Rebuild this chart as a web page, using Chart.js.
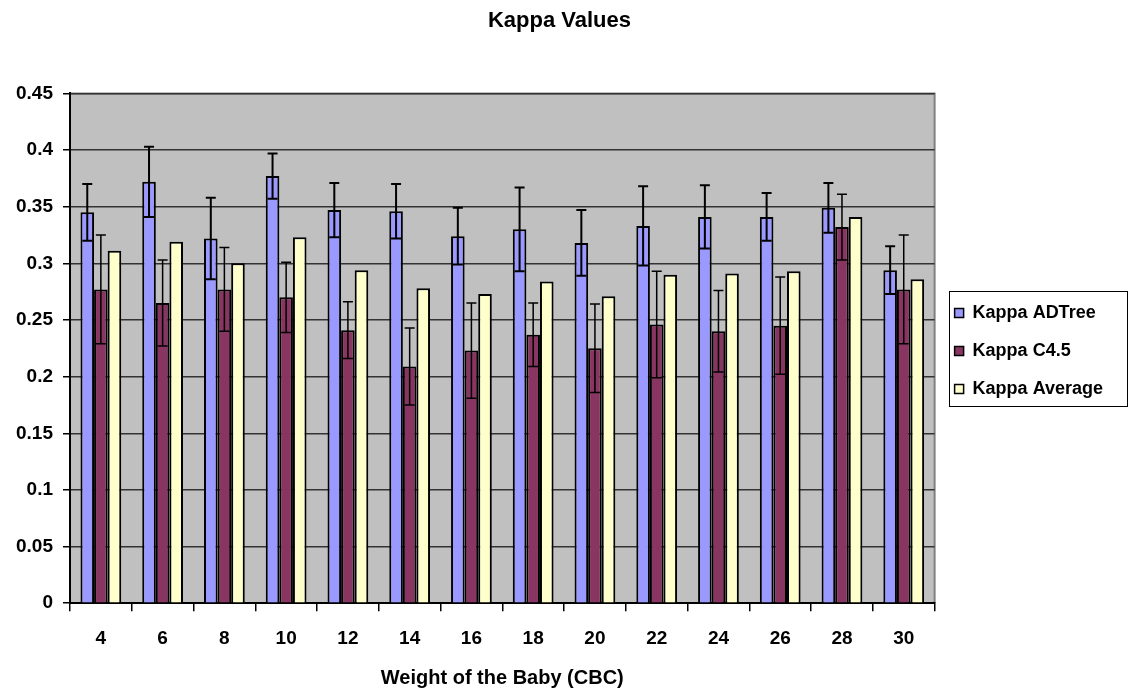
<!DOCTYPE html>
<html>
<head>
<meta charset="utf-8">
<script src="https://cdn.jsdelivr.net/npm/chart.js@4.4.1/dist/chart.umd.min.js"></script>
<style>
  html, body { margin: 0; padding: 0; background: #fff; }
  #wrap { width: 1136px; height: 695px; }
</style>
</head>
<body>
<div id="wrap"><canvas id="kappaChart" width="1136" height="695"></canvas></div>
<script>
const weights = ["4", "6", "8", "10", "12", "14", "16", "18", "20", "22", "24", "26", "28", "30"];

const kappaADTree = [0.345, 0.372, 0.322, 0.377, 0.347, 0.346, 0.324, 0.330, 0.318, 0.333, 0.341, 0.341, 0.349, 0.294];
const errADTree   = [0.025, 0.031, 0.036, 0.020, 0.024, 0.024, 0.025, 0.037, 0.029, 0.035, 0.028, 0.021, 0.022, 0.021];

const kappaC45 = [0.277, 0.265, 0.277, 0.270, 0.241, 0.209, 0.223, 0.237, 0.225, 0.246, 0.240, 0.245, 0.332, 0.277];
const errC45   = [0.048, 0.038, 0.037, 0.031, 0.025, 0.034, 0.042, 0.028, 0.039, 0.047, 0.036, 0.043, 0.029, 0.048];

const kappaAverage = [0.311, 0.319, 0.300, 0.323, 0.294, 0.278, 0.273, 0.284, 0.271, 0.290, 0.291, 0.293, 0.341, 0.286];

const yTicks = [0, 0.05, 0.1, 0.15, 0.2, 0.25, 0.3, 0.35, 0.4, 0.45];

const FONT = "'Liberation Sans', Arial, sans-serif";

// grey plot background
const plotBackground = {
    id: 'plotBackground',
    beforeDraw(chart) {
        const { ctx, chartArea: a } = chart;
        ctx.save();
        ctx.fillStyle = '#c0c0c0';
        ctx.fillRect(a.left, a.top, a.right - a.left, a.bottom - a.top);
        ctx.strokeStyle = '#808080';
        ctx.lineWidth = 2;
        ctx.beginPath();
        ctx.moveTo(a.left, a.top);
        ctx.lineTo(a.right, a.top);
        ctx.lineTo(a.right, a.bottom);
        ctx.stroke();
        ctx.restore();
    }
};

// error bars drawn from the bar elements and the y scale
const errorBars = {
    id: 'errorBars',
    afterDatasetsDraw(chart) {
        const { ctx } = chart;
        const yScale = chart.scales.y;
        ctx.save();
        ctx.strokeStyle = '#000';
        chart.data.datasets.forEach((ds, di) => {
            if (!ds.errors) return;
            const meta = chart.getDatasetMeta(di);
            ctx.lineWidth = ds.errorWidth || 2;
            meta.data.forEach((bar, i) => {
                const v = ds.data[i];
                const e = ds.errors[i];
                const yTop = yScale.getPixelForValue(v + e);
                const yBot = yScale.getPixelForValue(v - e);
                const x = bar.x;
                ctx.beginPath();
                ctx.moveTo(x, yTop);
                ctx.lineTo(x, yBot);
                ctx.moveTo(x - 5, yTop);
                ctx.lineTo(x + 5, yTop);
                ctx.moveTo(x - 5, yBot);
                ctx.lineTo(x + 5, yBot);
                ctx.stroke();
            });
        });
        ctx.restore();
    }
};

// frame around the legend
const legendFrame = {
    id: 'legendFrame',
    afterDraw(chart) {
        const lg = chart.legend;
        if (!lg || !lg.legendHitBoxes.length) return;
        const boxes = lg.legendHitBoxes;
        const left = boxes[0].left - 6;
        const top = boxes[0].top - 13;
        const last = boxes[boxes.length - 1];
        const bottom = last.top + last.height + 8;
        const { ctx } = chart;
        ctx.save();
        ctx.strokeStyle = '#000';
        ctx.lineWidth = 1;
        ctx.strokeRect(Math.round(left) + 0.5, Math.round(top) + 0.5, 178, Math.round(bottom - top));
        ctx.restore();
    }
};

new Chart(document.getElementById('kappaChart'), {
    type: 'bar',
    data: {
        labels: weights,
        datasets: [{
            label: 'Kappa ADTree',
            data: kappaADTree,
            errors: errADTree,
            errorWidth: 2,
            backgroundColor: '#9999ff',
            borderColor: '#000',
            borderWidth: 2
        }, {
            label: 'Kappa C4.5',
            data: kappaC45,
            errors: errC45,
            errorWidth: 1.5,
            backgroundColor: '#883562',
            borderColor: '#000',
            borderWidth: 2
        }, {
            label: 'Kappa Average',
            data: kappaAverage,
            backgroundColor: '#ffffcc',
            borderColor: '#000',
            borderWidth: 2
        }]
    },
    options: {
        responsive: false,
        animation: false,
        devicePixelRatio: 1,
        layout: {
            padding: { left: 6, right: 23, top: 0, bottom: 5 }
        },
        datasets: {
            bar: {
                categoryPercentage: 0.66,
                barPercentage: 1.0
            }
        },
        scales: {
            x: {
                grid: {
                    display: true,
                    drawOnChartArea: false,
                    drawTicks: true,
                    tickLength: 8,
                    color: '#000',
                    lineWidth: 1.5
                },
                border: { display: true, color: '#000', width: 2 },
                ticks: {
                    color: '#000',
                    font: { family: FONT, size: 19, weight: 'bold' },
                    padding: 16
                },
                title: {
                    display: true,
                    text: 'Weight of the Baby (CBC)',
                    color: '#000',
                    font: { family: FONT, size: 20, weight: 'bold' },
                    padding: { top: 0, bottom: 0 }
                }
            },
            y: {
                min: 0,
                max: 0.45,
                afterBuildTicks(scale) {
                    scale.ticks = yTicks.map(v => ({ value: v }));
                },
                grid: {
                    color: '#333',
                    lineWidth: 1.5,
                    drawTicks: true,
                    tickLength: 7,
                    tickColor: '#000'
                },
                border: { display: true, color: '#000', width: 2 },
                ticks: {
                    color: '#000',
                    font: { family: FONT, size: 19, weight: 'bold' },
                    padding: 10,
                    callback: v => String(Math.round(v * 100) / 100)
                }
            }
        },
        plugins: {
            title: {
                display: true,
                text: 'Kappa Values',
                color: '#000',
                font: { family: FONT, size: 22, weight: 'bold' },
                padding: { top: 8, bottom: 59 }
            },
            legend: {
                position: 'right',
                // empty title only pushes the centred items down a little
                title: {
                    display: true,
                    text: ' ',
                    font: { family: FONT, size: 10 },
                    padding: 0
                },
                labels: {
                    color: '#000',
                    font: { family: FONT, size: 18, weight: 'bold' },
                    boxWidth: 9,
                    boxHeight: 9,
                    padding: 20,
                    generateLabels(chart) {
                        return chart.data.datasets.map((ds, i) => ({
                            text: ds.label,
                            fillStyle: ds.backgroundColor,
                            strokeStyle: '#000',
                            lineWidth: 1.5,
                            hidden: false,
                            datasetIndex: i,
                            fontColor: '#000'
                        }));
                    }
                }
            },
            tooltip: { enabled: false }
        }
    },
    plugins: [plotBackground, errorBars, legendFrame]
});
</script>
</body>
</html>
